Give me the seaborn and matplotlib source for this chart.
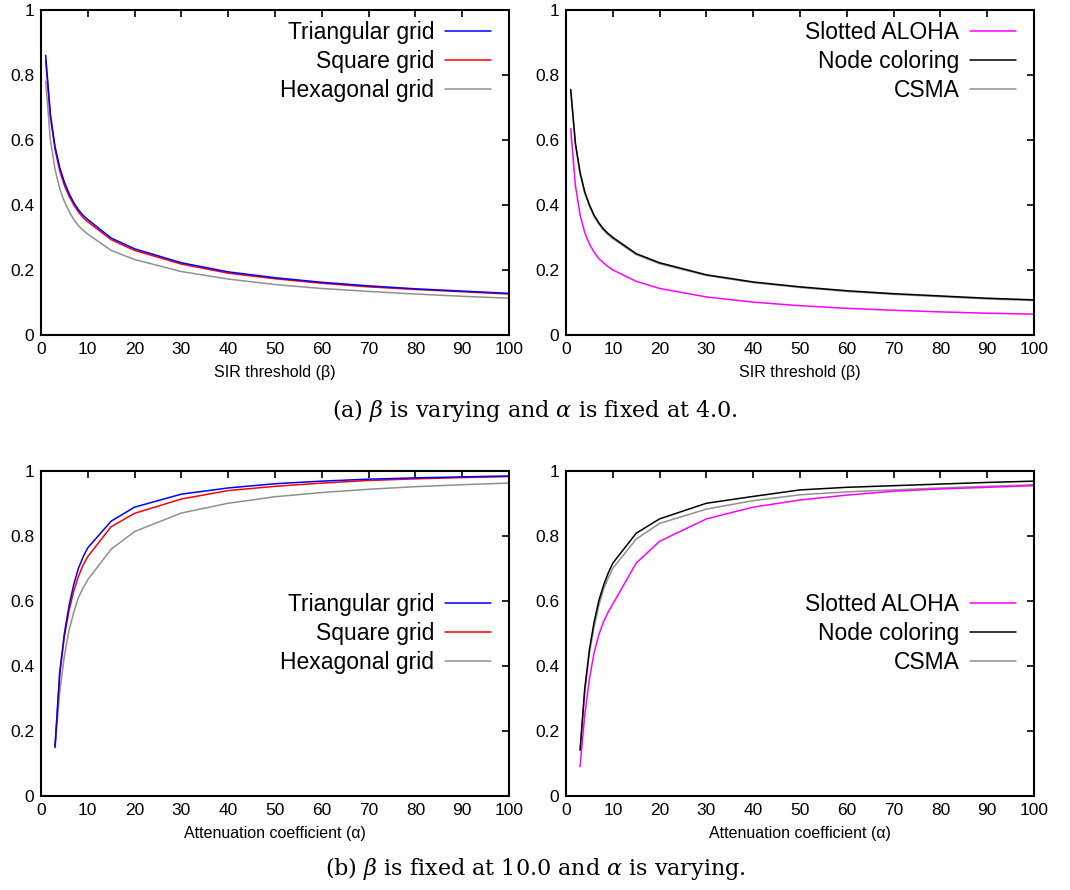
import numpy as np
import pandas as pd
import matplotlib
matplotlib.use("Agg")
import matplotlib.pyplot as plt
import seaborn as sns

# (a) beta varying, alpha fixed at 4.0
beta = [1, 2, 3, 4, 5, 6, 7, 8, 9, 10, 15, 20, 30, 40, 50, 60, 70, 80, 90, 100]
tri_a = [0.86, 0.68, 0.58, 0.515, 0.47, 0.435, 0.407, 0.385, 0.368, 0.355,
         0.298, 0.265, 0.222, 0.194, 0.176, 0.162, 0.151, 0.142, 0.135, 0.128]
sq_a = [0.845, 0.67, 0.57, 0.505, 0.46, 0.427, 0.4, 0.378, 0.361, 0.348,
        0.293, 0.26, 0.218, 0.19, 0.173, 0.159, 0.148, 0.14, 0.133, 0.126]
hex_a = [0.78, 0.6, 0.51, 0.45, 0.41, 0.38, 0.355, 0.336, 0.322, 0.31,
         0.26, 0.232, 0.195, 0.172, 0.155, 0.143, 0.134, 0.126, 0.119, 0.113]
node_a = [0.755, 0.59, 0.5, 0.44, 0.4, 0.368, 0.345, 0.326, 0.312, 0.3,
          0.25, 0.222, 0.185, 0.163, 0.148, 0.136, 0.127, 0.12, 0.113, 0.108]
csma_a = [0.75, 0.585, 0.495, 0.436, 0.396, 0.364, 0.341, 0.322, 0.308, 0.296,
          0.247, 0.219, 0.183, 0.161, 0.146, 0.134, 0.125, 0.118, 0.111, 0.106]
aloha_a = [0.635, 0.46, 0.37, 0.315, 0.28, 0.255, 0.235, 0.222, 0.21, 0.2,
           0.165, 0.143, 0.117, 0.101, 0.09, 0.082, 0.076, 0.071, 0.067, 0.064]

# (b) beta fixed at 10.0, alpha varying
alpha = [3, 4, 5, 6, 7, 8, 9, 10, 15, 20, 30, 40, 50, 60, 70, 80, 90, 100]
tri_b = [0.152, 0.38, 0.5, 0.585, 0.65, 0.70, 0.735, 0.763,
         0.845, 0.888, 0.928, 0.947, 0.96, 0.968, 0.974, 0.978, 0.981, 0.984]
sq_b = [0.15, 0.37, 0.49, 0.57, 0.63, 0.675, 0.71, 0.736,
        0.828, 0.869, 0.913, 0.939, 0.952, 0.962, 0.97, 0.975, 0.979, 0.982]
hex_b = [0.148, 0.32, 0.43, 0.51, 0.565, 0.61, 0.64, 0.665,
         0.759, 0.813, 0.87, 0.90, 0.92, 0.933, 0.943, 0.951, 0.957, 0.962]
node_b = [0.141, 0.33, 0.45, 0.535, 0.60, 0.647, 0.685, 0.716,
          0.808, 0.852, 0.90, 0.921, 0.941, 0.949, 0.954, 0.959, 0.964, 0.968]
csma_b = [0.14, 0.32, 0.44, 0.52, 0.585, 0.635, 0.67, 0.70,
          0.79, 0.838, 0.882, 0.908, 0.926, 0.935, 0.941, 0.947, 0.952, 0.957]
aloha_b = [0.09, 0.25, 0.36, 0.44, 0.495, 0.535, 0.565, 0.59,
           0.716, 0.783, 0.852, 0.888, 0.91, 0.925, 0.937, 0.944, 0.949, 0.954]

grid_labels = ["Triangular grid", "Square grid", "Hexagonal grid"]
grid_colors = ["#0000ff", "#ff0000", "#909090"]
mac_labels = ["Slotted ALOHA", "Node coloring", "CSMA"]
mac_colors = ["#ff00ff", "#000000", "#909090"]

sns.set_style("white")
plt.rcParams['font.family'] = ['Liberation Sans', 'DejaVu Sans']
plt.rcParams['mathtext.fontset'] = 'dejavuserif'
plt.rcParams['text.color'] = 'black'
plt.rcParams['axes.labelcolor'] = 'black'

fig = plt.figure(figsize=(10.7, 8.9), dpi=100)
w = 0.4374
h = 0.3655
axes = [
    fig.add_axes([0.0383, 0.6236, w, h]),
    fig.add_axes([0.529, 0.6236, w, h]),
    fig.add_axes([0.0383, 0.1056, w, h]),
    fig.add_axes([0.529, 0.1056, w, h]),
]

panels = [
    (axes[0], beta, [tri_a, sq_a, hex_a], grid_labels, grid_colors, "SIR threshold (β)", "upper right"),
    (axes[1], beta, [aloha_a, node_a, csma_a], mac_labels, mac_colors, "SIR threshold (β)", "upper right"),
    (axes[2], alpha, [tri_b, sq_b, hex_b], grid_labels, grid_colors, "Attenuation coefficient (α)", "center right"),
    (axes[3], alpha, [aloha_b, node_b, csma_b], mac_labels, mac_colors, "Attenuation coefficient (α)", "center right"),
]

for ax, xs, series, labels, colors, xlabel, loc in panels:
    # draw grey lines first so coloured/black lines sit on top
    order = [2, 0, 1] if colors[1] == "#000000" else [2, 1, 0]
    for i in order:
        df = pd.DataFrame({"x": xs, "y": series[i]})
        sns.lineplot(data=df, x="x", y="y", ax=ax, color=colors[i], linewidth=1.1, label=labels[i])
    ax.set_xlim(0, 100)
    ax.set_ylim(0, 1)
    ax.set_xticks(range(0, 101, 10))
    ax.set_yticks([0, 0.2, 0.4, 0.6, 0.8, 1.0])
    ax.set_yticklabels(["0", "0.2", "0.4", "0.6", "0.8", "1"])
    ax.tick_params(direction="in", length=5, width=1.2, top=True, right=True,
                   labelsize=12.5, colors="black", pad=5)
    for sp in ax.spines.values():
        sp.set_linewidth(1.5)
        sp.set_color("black")
    ax.set_xlabel(xlabel, fontsize=11.5, labelpad=6)
    ax.set_ylabel("")
    handles, labs = ax.get_legend_handles_labels()
    idx = [labs.index(l) for l in labels]
    ax.legend([handles[i] for i in idx], labels, loc=loc, markerfirst=False, frameon=False,
              fontsize=16.5, handlelength=2.0, labelspacing=0.25, handletextpad=0.45,
              borderaxespad=0.1, bbox_to_anchor=(0.985, 1.0) if loc == "upper right" else (0.985, 0.5))

fig.text(0.5, 1 - 410 / 890, r"(a) $\beta$ is varying and $\alpha$ is fixed at 4.0.",
         ha="center", va="center", fontsize=16, family=["DejaVu Serif"])
fig.text(0.5, 1 - 868 / 890, r"(b) $\beta$ is fixed at 10.0 and $\alpha$ is varying.",
         ha="center", va="center", fontsize=16, family=["DejaVu Serif"])

fig.savefig("out.png", dpi=100, facecolor="white")
